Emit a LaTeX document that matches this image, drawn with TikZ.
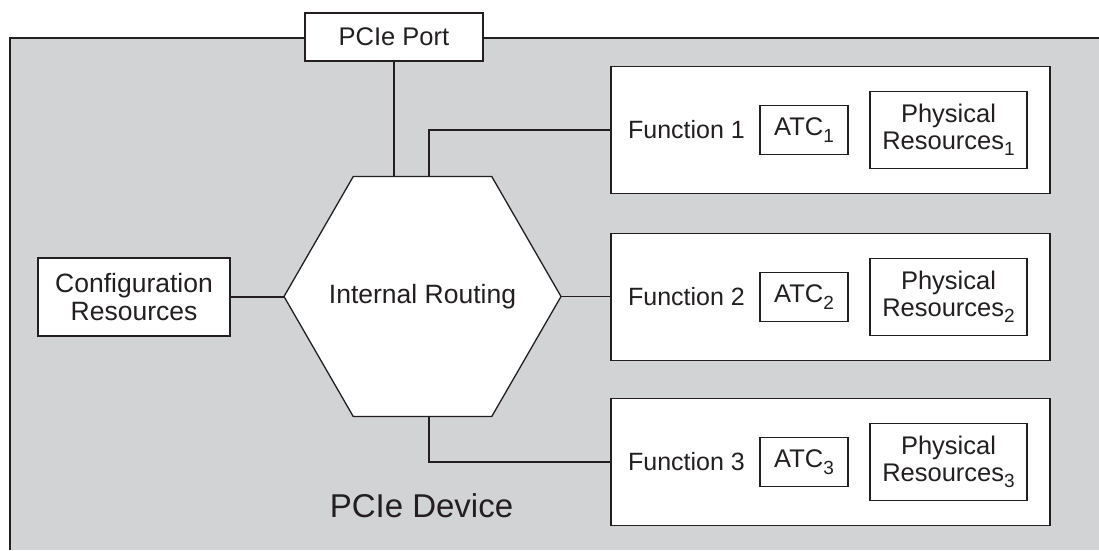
\documentclass[tikz,border=0pt]{standalone}
\usepackage{fontspec}
\setmainfont{Liberation Sans}
\definecolor{devgray}{HTML}{D1D3D4}
\definecolor{ink}{HTML}{231F20}
\newcommand{\idx}[1]{\raisebox{-6.5pt}{\fontsize{19}{19}\selectfont #1}}

\begin{document}
\begin{tikzpicture}[x=1pt,y=-1pt,color=ink,line width=1.3pt,
    box/.style={draw,fill=white,inner sep=0pt,align=center,font=\fontsize{25.5}{27}\selectfont},
    funcbox/.style={draw,fill=white,minimum width=439pt,minimum height=127pt}]

\useasboundingbox (0,0) rectangle (1099,550);

\fill[devgray] (10,38) rectangle (1099,550);
\draw (10,550) |- (1099,38);

\node[box,minimum width=178pt,minimum height=48pt] (port) at (394,37) {PCIe Port};

\coordinate (rc) at (422.5,296.5);
\draw[fill=white] (rc) ++(-138.5,0) coordinate (rw) -- ++(69.25,-120) -- ++(138.5,0)
    -- ++(69.25,120) coordinate (re) -- ++(-69.25,120) -- ++(-138.5,0) -- cycle;
\path (rc) ++(0,-120) coordinate (rn) ++(0,240) coordinate (rs);
\node[font=\fontsize{26.5}{28}\selectfont] (route) at (rc) {Internal Routing};

\node[box,minimum width=192pt,minimum height=78pt,font=\fontsize{26.5}{27.5}\selectfont] (cfg) at (134,297) {Configuration\\Resources};

\foreach \i/\y in {1/130,2/297,3/462}{
    \node[funcbox] (f\i) at (830.5,\y) {};
    \node[font=\fontsize{25}{27}\selectfont] (fn\i) at (686.5,\y) {Function \i};
    \node[box,minimum width=88pt,minimum height=49pt] (atc\i) at (804,\y) {ATC\idx{\i}};
    \node[box,minimum width=157pt,minimum height=77pt] (res\i) at (948.5,\y) {Physical\\Resources\idx{\i}};
}

\draw (port.south) -- (port.south |- rn);
\draw ([xshift=6.5pt]rn) |- (f1.west);
\draw (re) -- (re -| f2.west);
\draw ([xshift=6.5pt]rs) |- (f3.west);
\draw (cfg.east) -- (cfg.east -| rw);

\node[font=\fontsize{33}{36}\selectfont] (dev) at (421.5,506) {PCIe Device};

\end{tikzpicture}
\end{document}
